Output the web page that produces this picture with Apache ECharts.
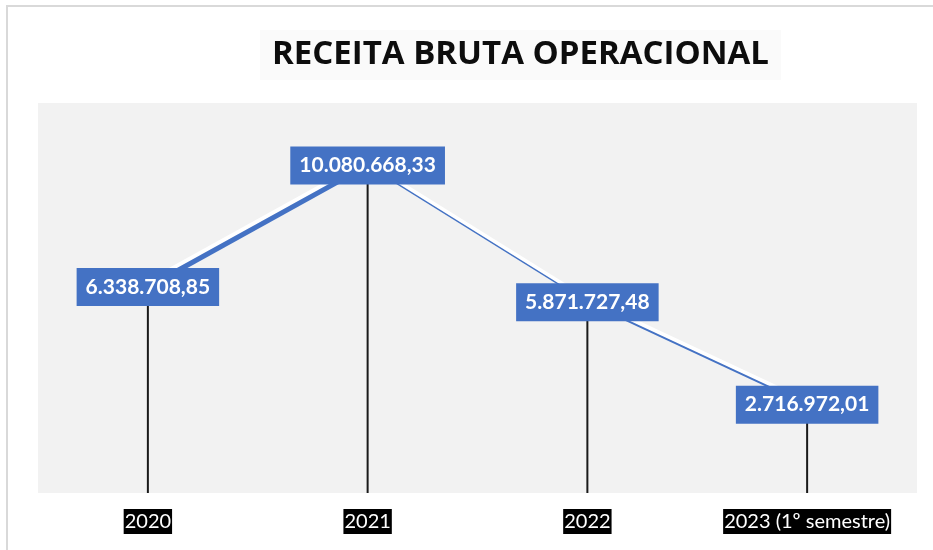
<!DOCTYPE html>
<html lang="pt">
<head>
	<meta charset="UTF-8">
	<title>Receita Bruta Operacional</title>
	<script src="https://cdn.jsdelivr.net/npm/echarts@6/dist/echarts.min.js"></script>
	<style>
		html, body { margin: 0; padding: 0; background: #fff; }
	</style>
</head>
<body>
	<div id="chart" style="width: 933px; height: 550px;"></div>
	<script type="text/javascript">

		const years = ['2020', '2021', '2022', '2023 (1º semestre)'];
		const receita = [6338708.85, 10080668.33, 5871727.48, 2716972.01];

		// each segment of the line has its own width in the original
		const segWidths = [5, 1.3, 2];

		const fmt = (v) => {
			const [int, dec] = v.toFixed(2).split('.');
			return int.replace(/\B(?=(\d{3})+(?!\d))/g, '.') + ',' + dec;
		};

		const segment = (i) => receita.map((v, j) => (j === i || j === i + 1) ? v : null);

		const chart = echarts.init(document.getElementById('chart'));

		const series = [];

		// drop lines
		series.push({
			type: 'bar',
			data: receita,
			barWidth: 2,
			itemStyle: { color: '#1a1a1a' },
			z: 2,
			silent: true
		});

		segWidths.forEach((w, i) => {
			// white highlight, drawn on a slightly shifted grid
			series.push({
				type: 'line',
				xAxisIndex: 1,
				yAxisIndex: 1,
				data: segment(i),
				symbol: 'none',
				lineStyle: { color: '#ffffff', width: 4 },
				z: 2,
				silent: true
			});
			series.push({
				type: 'line',
				data: segment(i),
				symbol: 'none',
				lineStyle: { color: '#4472c4', width: w },
				z: 3,
				silent: true
			});
		});

		// labels
		series.push({
			type: 'line',
			data: receita,
			symbol: 'circle',
			symbolSize: 1,
			itemStyle: { color: 'rgba(0,0,0,0)' },
			lineStyle: { opacity: 0 },
			z: 10,
			label: {
				show: true,
				position: 'inside',
				formatter: (p) => fmt(p.value),
				color: '#fff',
				fontFamily: 'Lato',
				fontWeight: 'bold',
				fontSize: 21,
				lineHeight: 24,
				backgroundColor: '#4472c4',
				padding: [7, 9]
			}
		});

		chart.setOption({
			animation: false,
			title: {
				text: 'RECEITA BRUTA OPERACIONAL',
				left: 260,
				top: 30,
				padding: [8, 12],
				backgroundColor: '#fafafa',
				textStyle: {
					fontFamily: 'Open Sans',
					fontWeight: 'bold',
					fontSize: 33,
					lineHeight: 34,
					color: '#0d0d0d'
				}
			},
			graphic: [{
				type: 'rect',
				shape: { x: 7, y: 6, width: 1000, height: 1000 },
				style: { fill: 'none', stroke: '#d9d9d9', lineWidth: 2 },
				silent: true,
				z: -1
			}],
			grid: [
				{ left: 38, top: 103, width: 879, height: 390, show: true, backgroundColor: '#f2f2f2', borderWidth: 0 },
				{ left: 36, top: 99, width: 879, height: 390 }
			],
			xAxis: [{
				type: 'category',
				data: years,
				gridIndex: 0,
				axisLine: { show: false },
				axisTick: { show: false },
				axisLabel: {
					margin: 16,
					color: '#fff',
					backgroundColor: '#000',
					fontFamily: 'Lato',
					fontSize: 20,
					padding: [3, 1, 2, 1]
				}
			}, {
				type: 'category',
				data: years,
				gridIndex: 1,
				show: false
			}],
			yAxis: [{
				type: 'value',
				gridIndex: 0,
				min: 0,
				max: 12000000,
				show: false
			}, {
				type: 'value',
				gridIndex: 1,
				min: 0,
				max: 12000000,
				show: false
			}],
			series: series
		});
	</script>
</body>
</html>
